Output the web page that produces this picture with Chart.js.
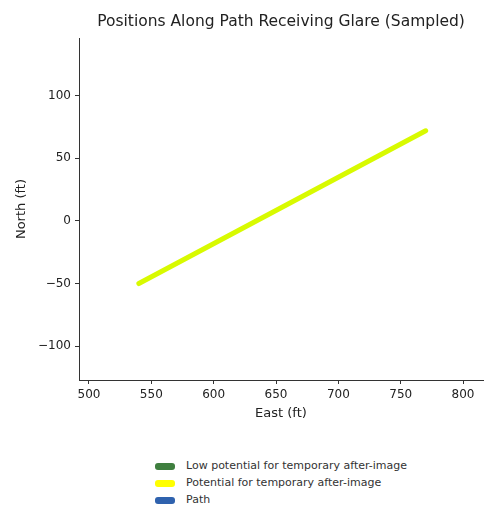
<!DOCTYPE html>
<html>
<head>
<meta charset="utf-8">
<script src="https://cdn.jsdelivr.net/npm/chart.js@4/dist/chart.umd.min.js"></script>
<style>
    body { margin: 0; background: #fff; font-family: "DejaVu Sans", sans-serif; }
    #wrap { position: relative; width: 488px; height: 514px; }
    #box { position: absolute; left: 0; top: 0; width: 488px; height: 421px; }
    #legend { position: absolute; left: 155px; top: 457px; font-size: 11px; color: #333; }
    .item { height: 17px; line-height: 17px; white-space: nowrap; }
    .patch { display: inline-block; width: 20px; height: 7px; border-radius: 3px; margin-right: 11px; vertical-align: middle; }
</style>
</head>
<body>
<div id="wrap">
    <div id="box"><canvas id="chart"></canvas></div>
    <div id="legend"></div>
</div>
<script>
// 图表数据
const seriesNames = ['Low potential for temporary after-image', 'Potential for temporary after-image', 'Path'];
const seriesColors = ['#3f7f3f', '#ffff00', '#2f62ae'];
const pathEast = [540, 770];
const pathNorth = [-50, 72];
const glareEast = [540, 770];
const glareNorth = [-50, 72];
const lowEast = [];
const lowNorth = [];
const xTicks = [500, 550, 600, 650, 700, 750, 800];
const yTicks = [-100, -50, 0, 50, 100];

function toPoints(xs, ys) {
    return xs.map(function(x, i) { return { x: x, y: ys[i] }; });
}

// 自定义图例
const legend = document.getElementById('legend');
seriesNames.forEach(function(name, i) {
    const row = document.createElement('div');
    row.className = 'item';
    const patch = document.createElement('span');
    patch.className = 'patch';
    patch.style.background = seriesColors[i];
    row.appendChild(patch);
    row.appendChild(document.createTextNode(name));
    legend.appendChild(row);
});

const axisColor = '#333';
const tickFont = { family: 'DejaVu Sans', size: 12 };
const labelFont = { family: 'DejaVu Sans', size: 13 };

new Chart(document.getElementById('chart'), {
    type: 'scatter',
    data: {
        datasets: [{
            label: seriesNames[0],
            data: toPoints(lowEast, lowNorth),
            borderColor: seriesColors[0],
            backgroundColor: seriesColors[0],
            showLine: true,
            pointRadius: 0,
            borderWidth: 5,
            order: 2
        }, {
            label: seriesNames[1],
            data: toPoints(glareEast, glareNorth),
            borderColor: 'rgb(216, 250, 0)',
            backgroundColor: 'rgb(216, 250, 0)',
            showLine: true,
            pointRadius: 0,
            borderWidth: 5,
            borderCapStyle: 'round',
            order: 1
        }, {
            label: seriesNames[2],
            data: toPoints(pathEast, pathNorth),
            borderColor: seriesColors[2],
            backgroundColor: seriesColors[2],
            showLine: true,
            pointRadius: 0,
            borderWidth: 2,
            order: 3
        }]
    },
    options: {
        responsive: true,
        maintainAspectRatio: false,
        animation: false,
        layout: { padding: { left: 0, right: 5, top: 0, bottom: 0 } },
        plugins: {
            legend: { display: false },
            tooltip: { enabled: false },
            title: {
                display: true,
                text: 'Positions Along Path Receiving Glare (Sampled)',
                fullSize: false,
                color: '#222',
                font: { family: 'DejaVu Sans', size: 15.5, weight: 'normal' },
                padding: { top: 13, bottom: 6.5 }
            }
        },
        scales: {
            x: {
                type: 'linear',
                min: 492,
                max: 816,
                afterFit: function(scale) { scale.height = 41; },
                afterBuildTicks: function(scale) {
                    scale.ticks = xTicks.map(function(v) { return { value: v }; });
                },
                border: { display: true, color: axisColor, width: 1 },
                grid: { drawOnChartArea: false, drawTicks: true, tickLength: 4, color: axisColor },
                ticks: { color: '#222', font: tickFont, padding: 4, includeBounds: false, maxRotation: 0 },
                title: {
                    display: true,
                    text: 'East (ft)',
                    color: '#222',
                    font: labelFont,
                    padding: { top: 0, bottom: 0 }
                }
            },
            y: {
                type: 'linear',
                min: -127,
                max: 146,
                afterFit: function(scale) { scale.width = 79; },
                afterBuildTicks: function(scale) {
                    scale.ticks = yTicks.map(function(v) { return { value: v }; });
                },
                border: { display: true, color: axisColor, width: 1 },
                grid: { drawOnChartArea: false, drawTicks: true, tickLength: 4, color: axisColor },
                ticks: {
                    color: '#222',
                    font: tickFont,
                    padding: 4,
                    includeBounds: false,
                    callback: function(value) {
                        return String(value).replace('-', '\u2212');
                    }
                },
                title: {
                    display: true,
                    text: 'North (ft)',
                    color: '#222',
                    font: labelFont,
                    padding: { top: 14, bottom: 0 }
                }
            }
        }
    }
});
</script>
</body>
</html>
